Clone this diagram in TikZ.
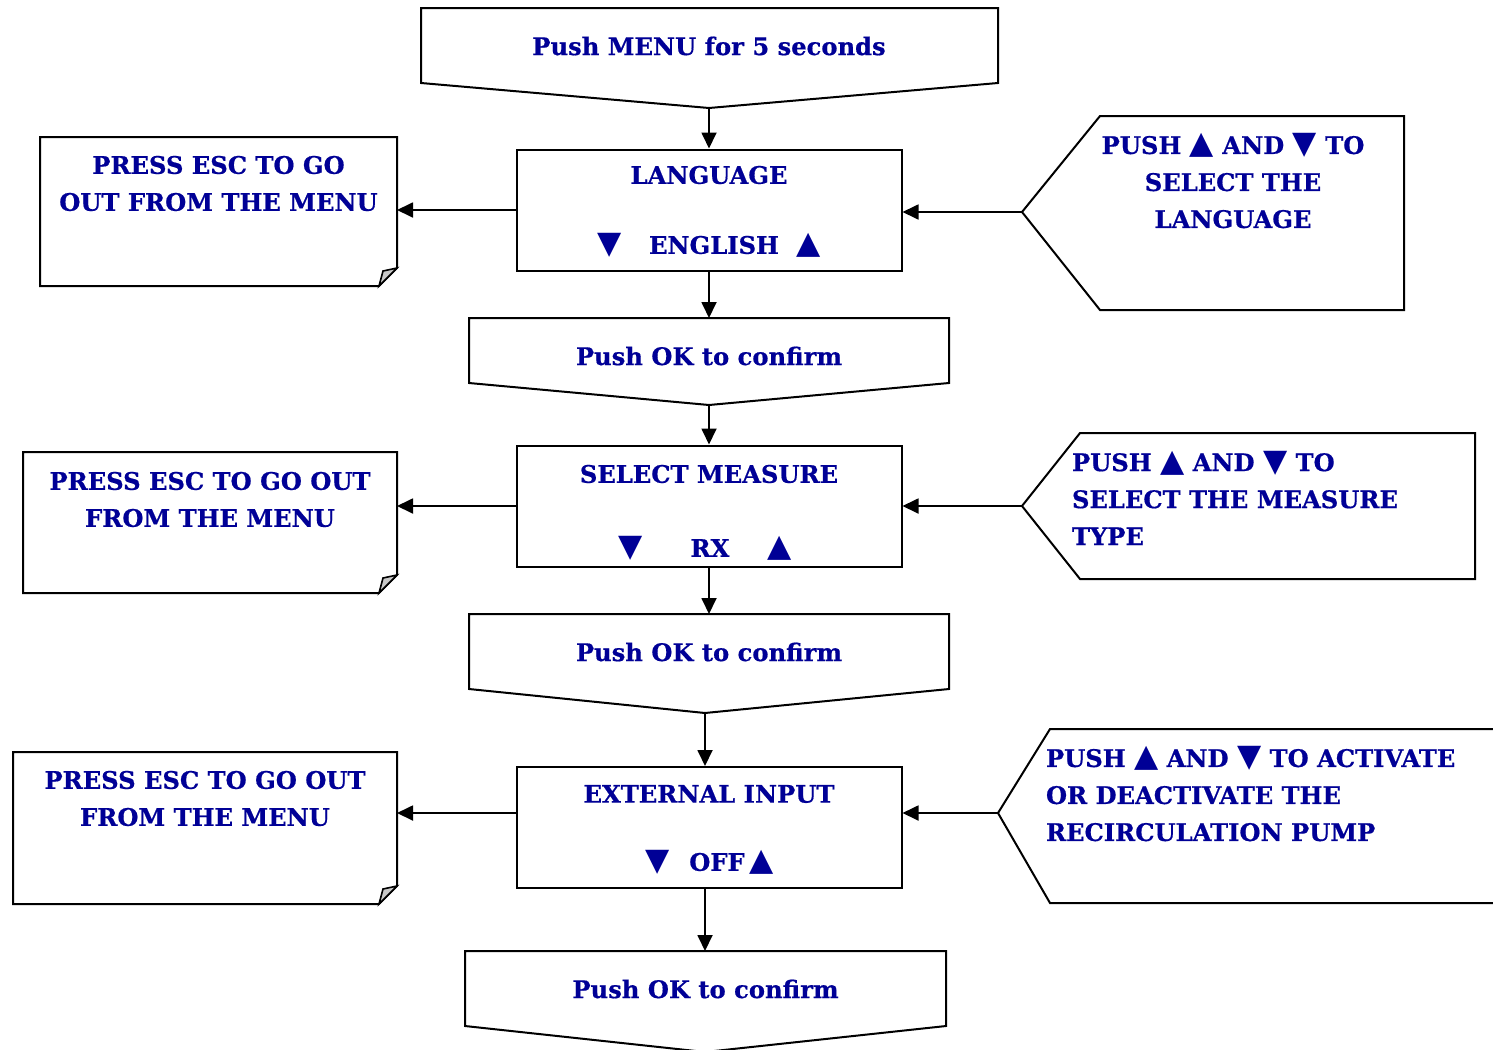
\documentclass[tikz,border=0pt]{standalone}
\usepackage{fontspec}
\setmainfont{DejaVu Serif}[BoldFeatures={FakeBold=0.6}]
\newfontfamily\symfnt{DejaVu Sans}
\usetikzlibrary{arrows.meta}
\definecolor{txtblue}{RGB}{0,0,150}
\definecolor{foldgray}{RGB}{200,200,200}
\newcommand{\UPtri}{{\symfnt\scalebox{1.3}{▲}}}
\newcommand{\DNtri}{{\symfnt\scalebox{1.3}{▼}}}
\begin{document}
\begin{tikzpicture}[x=0.5pt,y=-0.5pt,line width=1pt,line join=miter,
  lbl/.style={text=txtblue,font=\bfseries\fontsize{12.1}{18.5}\selectfont,inner sep=0pt},
  outl/.style={draw,line width=1pt,fill=white},
  box/.style={draw,line width=1pt,fill=white,minimum width=192.5pt,minimum height=60.5pt,inner sep=0pt},
  arr/.style={-{Triangle[length=8pt,width=7.5pt]},line width=0.9pt}]
\useasboundingbox (0,0) rectangle (1493,1049);
\clip (0,0) rectangle (1493,1049);

% ---------- top ----------
\draw[outl] (421,8) -- (998,8) -- (998,83) -- (709,108) -- (421,83) -- cycle;
\coordinate (topTip) at (709,108);
\node[lbl] (topTxt) at (709,46) {Push MENU for 5 seconds};

% ---------- language ----------
\node[box] (lang) at (709,210) {};
\node[lbl] (langA) at (709,175) {LANGUAGE};
\node[lbl] (langD) at (610,245) {\DNtri};
\node[lbl] (langB) at (714,245) {ENGLISH};
\node[lbl] (langU) at (809,245) {\UPtri};

% note 1
\draw[outl] (40,137) -- (397,137) -- (397,268) -- (379,286) -- (40,286) -- cycle;
\draw[fill=foldgray,line width=0.8pt] (379,286) -- (383,271) -- (397,268) -- cycle;
\coordinate (noteA) at (397,210);
\node[lbl,align=center] (noteAt) at (218.5,183.5) {PRESS ESC TO GO\\OUT FROM THE MENU};

% tag 1
\draw[outl] (1022,212) -- (1100,116) -- (1404,116) -- (1404,310) -- (1100,310) -- cycle;
\coordinate (tagA) at (1022,212);
\node[lbl,align=center] (tagAt) at (1233,181) {PUSH \UPtri\ AND \DNtri\ TO\\SELECT THE\\LANGUAGE};

% ---------- ok 1 ----------
\draw[outl] (469,318) -- (949,318) -- (949,383) -- (709,405) -- (469,383) -- cycle;
\coordinate (okAtop) at (709,318);
\coordinate (okAtip) at (709,405);
\node[lbl] (okAt) at (709,356) {Push OK to confirm};

% ---------- select measure ----------
\node[box] (sel) at (709,506) {};
\node[lbl] (selA) at (709,474) {SELECT MEASURE};
\node[lbl] (selD) at (631,548) {\DNtri};
\node[lbl] (selB) at (710,548) {RX};
\node[lbl] (selU) at (780,548) {\UPtri};

% note 2
\draw[outl] (23,452) -- (397,452) -- (397,575) -- (379,593) -- (23,593) -- cycle;
\draw[fill=foldgray,line width=0.8pt] (379,593) -- (383,578) -- (397,575) -- cycle;
\coordinate (noteB) at (397,506);
\node[lbl,align=center] (noteBt) at (210,499.5) {PRESS ESC TO GO OUT\\FROM THE MENU};

% tag 2
\draw[outl] (1022,506) -- (1080,433) -- (1475,433) -- (1475,579) -- (1080,579) -- cycle;
\coordinate (tagB) at (1022,506);
\node[lbl,align=left,anchor=west] (tagBt) at (1071,498) {PUSH \UPtri\ AND \DNtri\ TO\\SELECT THE MEASURE\\TYPE};

% ---------- ok 2 ----------
\draw[outl] (469,614) -- (949,614) -- (949,689) -- (705,713) -- (469,689) -- cycle;
\coordinate (okBtop) at (709,614);
\coordinate (okBtip) at (705,713);
\node[lbl] (okBt) at (709,652) {Push OK to confirm};

% ---------- external input ----------
\node[box] (ext) at (709,827.5) {};
\node[lbl] (extA) at (709,794) {EXTERNAL INPUT};
\node[lbl] (extD) at (658,862) {\DNtri};
\node[lbl] (extB) at (717,862) {OFF};
\node[lbl] (extU) at (762,862) {\UPtri};

% note 3
\draw[outl] (13,752) -- (397,752) -- (397,886) -- (379,904) -- (13,904) -- cycle;
\draw[fill=foldgray,line width=0.8pt] (379,904) -- (383,889) -- (397,886) -- cycle;
\coordinate (noteC) at (397,813);
\node[lbl,align=center] (noteCt) at (205,798.5) {PRESS ESC TO GO OUT\\FROM THE MENU};

% tag 3
\draw[outl] (998,813) -- (1050,729) -- (1510,729) -- (1510,903) -- (1050,903) -- cycle;
\coordinate (tagC) at (998,813);
\node[lbl,align=left,anchor=west] (tagCt) at (1045,794) {PUSH \UPtri\ AND \DNtri\ TO ACTIVATE\\OR DEACTIVATE THE\\RECIRCULATION PUMP};

% ---------- ok 3 ----------
\draw[outl] (465,951) -- (946,951) -- (946,1026) -- (705,1052) -- (465,1026) -- cycle;
\coordinate (okCtop) at (705,951);
\node[lbl] (okCt) at (705.5,989) {Push OK to confirm};

% ---------- connectors ----------
\draw[arr] (topTip) -- (lang.north);
\draw[arr] (lang.south) -- (okAtop);
\draw[arr] (okAtip) -- (sel.north);
\draw[arr] (sel.south) -- (okBtop);
\draw[arr] (okBtip) -- (okBtip |- ext.north);
\draw[arr] (okBtip |- ext.south) -- (okCtop);
\draw[arr] (noteA -| lang.west) -- (noteA);
\draw[arr] (tagA) -- (lang.east |- tagA);
\draw[arr] (sel.west) -- (noteB);
\draw[arr] (tagB) -- (sel.east);
\draw[arr] (noteC -| ext.west) -- (noteC);
\draw[arr] (tagC) -- (ext.east |- tagC);
\end{tikzpicture}
\end{document}
